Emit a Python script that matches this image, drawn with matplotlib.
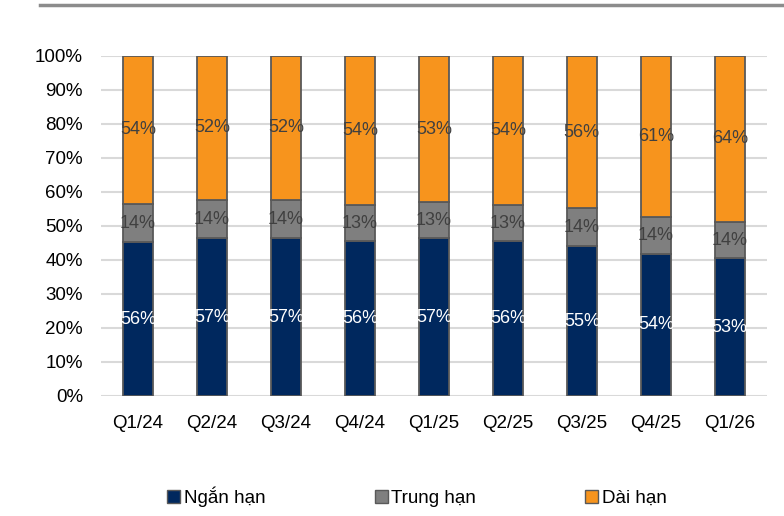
import numpy as np
import matplotlib.pyplot as plt
from matplotlib.lines import Line2D
from matplotlib.patches import Patch

plt.rcParams['font.family'] = ['Liberation Sans', 'DejaVu Sans']

quarters = ["Q1/24", "Q2/24", "Q3/24", "Q4/24", "Q1/25", "Q2/25", "Q3/25", "Q4/25", "Q1/26"]
ngan_han = [56, 57, 57, 56, 57, 56, 55, 54, 53]
trung_han = [14, 14, 14, 13, 13, 13, 14, 14, 14]
dai_han = [54, 52, 52, 54, 53, 54, 56, 61, 64]

names = ["Ngắn hạn", "Trung hạn", "Dài hạn"]
colors = ["#00285E", "#7F7F7F", "#F7941D"]
text_colors = ["white", "#404040", "#404040"]

fig = plt.figure(figsize=(7.84, 5.16), dpi=100)
ax = fig.add_axes([0.129, 0.2326, 0.849, 0.659])

series = np.array([ngan_han, trung_han, dai_han], dtype=float)
shares = series / series.sum(axis=0)
x = np.arange(len(quarters))
bottom = np.zeros(len(quarters))

for i in range(3):
    ax.bar(x, shares[i], 0.41, bottom=bottom, color=colors[i],
           edgecolor="#595959", linewidth=1.3, zorder=3)
    for j in range(len(quarters)):
        ax.text(x[j], bottom[j] + shares[i][j] / 2, f"{int(series[i][j])}%",
                ha="center", va="center", fontsize=13, color=text_colors[i], zorder=4)
    bottom += shares[i]

ax.set_xlim(-0.5, len(quarters) - 0.5)
ax.set_ylim(0, 1)
ax.set_yticks(np.arange(0, 1.01, 0.1))
ax.set_yticklabels([f"{int(round(v * 100))}%" for v in np.arange(0, 1.01, 0.1)])
ax.set_xticks(x)
ax.set_xticklabels(quarters)
ax.tick_params(axis="both", length=0, labelsize=13.5, colors="black")
ax.tick_params(axis="x", pad=14)
ax.tick_params(axis="y", pad=13)
ax.grid(axis="y", color="#D9D9D9", linewidth=1.5, zorder=0)
for s in ["top", "right", "left", "bottom"]:
    ax.spines[s].set_visible(False)

# top separator line
fig.add_artist(Line2D([40 / 784, 1], [1 - 5 / 516, 1 - 5 / 516], color="#8C8C8C", linewidth=2.5))

handles = [Patch(facecolor=c, edgecolor="#595959", linewidth=1) for c in colors]
fig.legend(handles, names, loc="center", bbox_to_anchor=(0.532, 1 - 497 / 516), ncol=3,
           frameon=False, fontsize=13.5, handlelength=0.7, handleheight=0.7,
           handletextpad=0.2, columnspacing=5.8)

fig.savefig("out.png", dpi=100)
